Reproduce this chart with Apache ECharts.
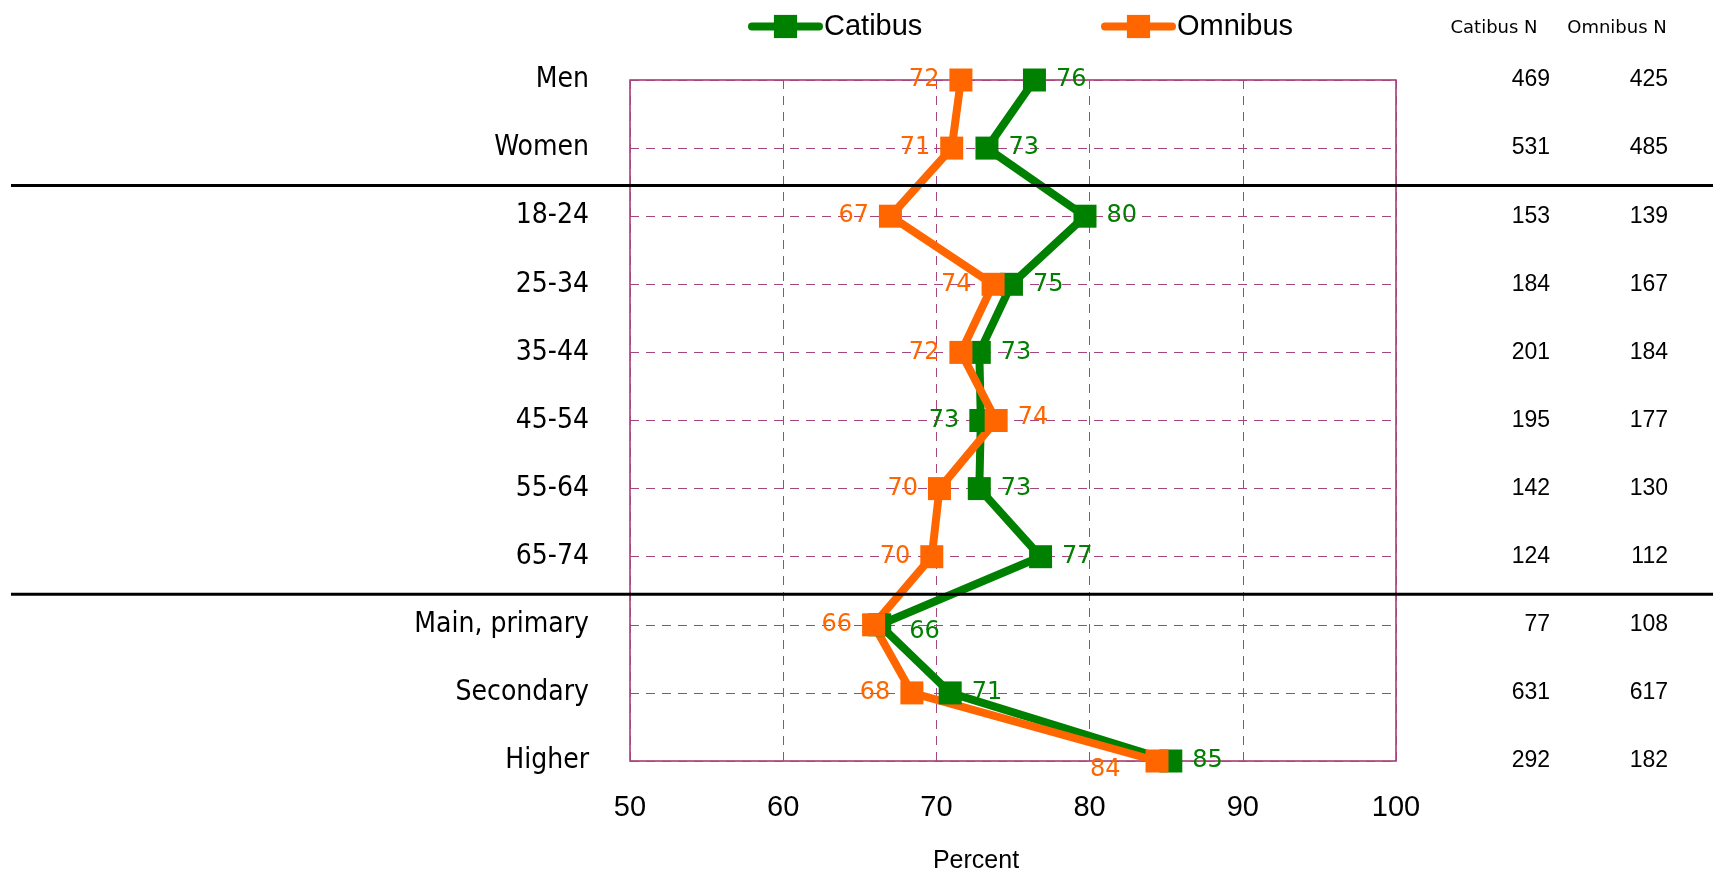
<!DOCTYPE html>
<html><head><meta charset="utf-8">
<script src="https://cdn.jsdelivr.net/npm/echarts@6/dist/echarts.min.js"></script>
<style>html,body{margin:0;padding:0;background:#fff}#c{width:1713px;height:872px}</style>
</head><body><div id="c"></div>
<script>
const categories = ['Men','Women','18-24','25-34','35-44','45-54','55-64','65-74','Main, primary','Secondary','Higher'];
const catibus = [76.4, 73.3, 79.7, 74.9, 72.8, 72.9, 72.8, 76.8, 66.3, 70.9, 85.3];
const omnibus = [71.6, 71.0, 67.0, 73.7, 71.6, 73.9, 70.2, 69.7, 65.9, 68.4, 84.4];
const catibusN = [469, 531, 153, 184, 201, 195, 142, 124, 77, 631, 292];
const omnibusN = [425, 485, 139, 167, 184, 177, 130, 112, 108, 617, 182];
const xTicks = [50, 60, 70, 80, 90, 100];
const groupBreaksAfter = [1, 7];

// label placement (style, not data)
const catLabelPos = ['right','right','right','right','right','left','right','right','right','right','right'];
const omnLabelPos = ['left','left','left','left','left','right','left','left','left','left','left'];
const catLabelExtra = {8: {distance: 18, offset: [0, 7]}};
const omnLabelExtra = {5: {offset: [0, -3]}, 10: {distance: 25, offset: [0, 9]}};

const GREEN = '#008000', ORANGE = '#FF6600';
const GRIDC = '#A5467E';
const chart = echarts.init(document.getElementById('c'), null, {renderer: 'canvas'});

function buildData(vals, pos, extra) {
  return vals.map((v, i) => ({
    value: v,
    label: Object.assign({position: pos[i]}, extra[i] || {})
  }));
}

function series(name, color, vals, pos, extra) {
  return {
    name: name, type: 'line', xAxisIndex: 0, yAxisIndex: 0,
    data: buildData(vals, pos, extra),
    symbol: 'rect', symbolSize: 23,
    lineStyle: {color: color, width: 8},
    itemStyle: {color: color},
    label: {
      show: true, distance: 10, color: color,
      fontFamily: 'DejaVu Sans', fontSize: 24,
      formatter: p => String(Math.round(p.value))
    },
    emphasis: {disabled: true},
    animation: false
  };
}

const commonLegend = {
  top: 7, itemWidth: 67, itemHeight: 29, itemGap: 20,
  textStyle: {fontFamily: 'Liberation Sans', fontSize: 29, color: '#000'},
  lineStyle: {width: 8, cap: 'round'},
  selectedMode: false
};

const option = {
  animation: false,
  legend: [
    Object.assign({}, commonLegend, {left: 743, data: ['Catibus']}),
    Object.assign({}, commonLegend, {left: 1096, data: ['Omnibus']})
  ],
  title: [
    {text: 'Catibus N', left: 1489, top: 14, textAlign: 'center',
     textStyle: {fontFamily: 'DejaVu Sans', fontSize: 18, fontWeight: 'normal', color: '#000'}},
    {text: 'Omnibus N', left: 1612, top: 14, textAlign: 'center',
     textStyle: {fontFamily: 'DejaVu Sans', fontSize: 18, fontWeight: 'normal', color: '#000'}},
    {text: 'Percent', left: 971, top: 844, textAlign: 'center',
     textStyle: {fontFamily: 'Liberation Sans', fontSize: 25, fontWeight: 'normal', color: '#000'}}
  ],
  grid: {left: 630, right: 317, top: 80, bottom: 111, show: true,
         borderColor: '#A0306A', borderWidth: 1.5, backgroundColor: 'transparent'},
  xAxis: {
    type: 'value', min: xTicks[0], max: xTicks[xTicks.length - 1], interval: 10,
    axisLine: {show: false}, axisTick: {show: false},
    axisLabel: {fontFamily: 'Liberation Sans', fontSize: 29, color: '#000', margin: 32},
    splitLine: {show: true, lineStyle: {color: GRIDC, type: [9, 7], width: 1}}
  },
  yAxis: [
    {
      type: 'category', data: categories, inverse: true, boundaryGap: false,
      axisLine: {show: false}, axisTick: {show: false},
      axisLabel: {fontFamily: 'DejaVu Sans Condensed, DejaVu Sans', fontSize: 28, color: '#000', margin: 41, interval: 0},
      splitLine: {show: true, lineStyle: {color: GRIDC, type: [9, 7], width: 1}}
    },
    {
      type: 'category', data: categories, inverse: true, boundaryGap: false, position: 'right',
      axisLine: {show: false}, axisTick: {show: false}, splitLine: {show: false},
      axisLabel: {fontFamily: 'Liberation Sans', fontSize: 23, color: '#000', margin: 154,
                  align: 'right', interval: 0, formatter: (v, i) => String(catibusN[i])}
    },
    {
      type: 'category', data: categories, inverse: true, boundaryGap: false, position: 'right',
      axisLine: {show: false}, axisTick: {show: false}, splitLine: {show: false},
      axisLabel: {fontFamily: 'Liberation Sans', fontSize: 23, color: '#000', margin: 272,
                  align: 'right', interval: 0, formatter: (v, i) => String(omnibusN[i])}
    }
  ],
  series: [
    series('Catibus', GREEN, catibus, catLabelPos, catLabelExtra),
    series('Omnibus', ORANGE, omnibus, omnLabelPos, omnLabelExtra)
  ]
};
chart.setOption(option);

const lines = groupBreaksAfter.map(i => {
  const a = chart.convertToPixel({yAxisIndex: 0}, i);
  const b = chart.convertToPixel({yAxisIndex: 0}, i + 1);
  const y = a + 0.55 * (b - a);
  return {type: 'line', z: 100, shape: {x1: 11, y1: y, x2: 1713, y2: y},
          style: {stroke: '#000', lineWidth: 3}};
});
chart.setOption({graphic: lines});
</script>
</body></html>
